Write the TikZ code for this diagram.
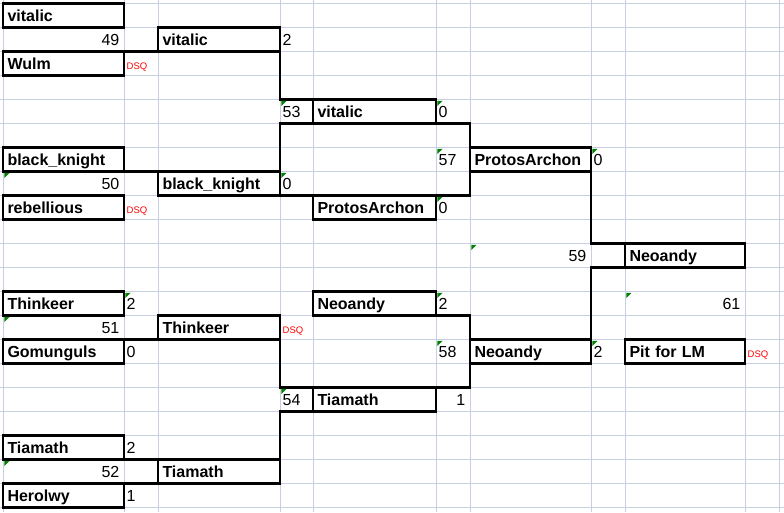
\documentclass[tikz,border=0pt]{standalone}
\usepackage{fontspec}
\setmainfont{Liberation Sans}
\definecolor{gridc}{RGB}{200,206,228}
\definecolor{xlgreen}{RGB}{0,128,0}
\definecolor{dsqred}{RGB}{255,0,0}
\tikzset{
  namebox/.style={draw=black, line width=2.8pt, rectangle, anchor=north west,
    minimum height=24pt, minimum width=#1, text width=#1-9pt,
    inner xsep=4.5pt, inner ysep=0pt, outer sep=0pt,
    text height=14pt, text depth=2pt, align=left,
    font=\fontsize{16}{19}\selectfont\bfseries},
  numL/.style={anchor=base west, inner sep=0pt, font=\fontsize{16}{19}\selectfont},
  numR/.style={anchor=base east, inner sep=0pt, font=\fontsize{16}{19}\selectfont},
  dsq/.style={anchor=base west, inner sep=0pt, text=dsqred, font=\fontsize{9.5}{11}\selectfont},
  conn/.style={draw=black, line width=2.8pt, line cap=rect, line join=miter},
  gridline/.style={draw=gridc, line width=1pt},
  flag/.style={fill=xlgreen}
}
\begin{document}
\begin{tikzpicture}[x=1pt,y=-1pt]
\useasboundingbox (0,0) rectangle (784,512);
\fill[white] (0,0) rectangle (784,512);
% grid
\foreach \gx in {3,124,158,280,313,436,470,591,625,745,779}
  \draw[gridline] (\gx,0) -- (\gx,512);
\foreach \r in {0,...,21}
  \draw[gridline] (0,3.5+24*\r) -- (784,3.5+24*\r);

% boxes
\node[namebox=121pt] (a0)  at (3,3.5)     {vitalic};
\node[namebox=121pt] (a2)  at (3,51.5)    {Wulm};
\node[namebox=122pt] (w49) at (158,27.5)  {vitalic};
\node[namebox=123pt] (w53) at (313,99.5)  {vitalic};
\node[namebox=121pt] (a6)  at (3,147.5)   {black\_knight};
\node[namebox=122pt] (w50) at (158,171.5) {black\_knight};
\node[namebox=121pt] (a8)  at (3,195.5)   {rebellious};
\node[namebox=123pt] (p8)  at (313,195.5) {ProtosArchon};
\node[namebox=121pt] (w57) at (470,147.5) {ProtosArchon};
\node[namebox=120pt] (w59) at (625,243.5) {Neoandy};
\node[namebox=121pt] (a12) at (3,291.5)   {Thinkeer};
\node[namebox=122pt] (w51) at (158,315.5) {Thinkeer};
\node[namebox=121pt] (a14) at (3,339.5)   {Gomunguls};
\node[namebox=123pt] (n12) at (313,291.5) {Neoandy};
\node[namebox=121pt] (w58) at (470,339.5) {Neoandy};
\node[namebox=123pt] (w54) at (313,387.5) {Tiamath};
\node[namebox=121pt] (a18) at (3,435.5)   {Tiamath};
\node[namebox=122pt] (w52) at (158,459.5) {Tiamath};
\node[namebox=121pt] (a20) at (3,483.5)   {Herolwy};
\node[namebox=120pt] (pit) at (625,339.5) {Pit for LM};

% connectors
\draw[conn] (a2.north east) -- (w49.south west);
\draw[conn] (a6.south east) -- (w50.north west);
\draw[conn] (a14.north east) -- (w51.south west);
\draw[conn] (a18.south east) -- (w52.north west);
\draw[conn] (a20.north east) -- (w52.south west);
\draw[conn] (w49.south east) |- (w53.north west);
\draw[conn] (w50.north east) |- (w53.south west);
\draw[conn] (w50.south east) -- (p8.north west);
\draw[conn] (w53.south east) -| (w57.north west);
\draw[conn] (p8.north east) -| (w57.south west);
\draw[conn] (w57.south east) |- (w59.north west);
\draw[conn] (w58.north east) |- (w59.south west);
\draw[conn] (w51.south east) |- (w54.north west);
\draw[conn] (w52.north east) |- (w54.south west);
\draw[conn] (n12.south east) -| (w58.north west);
\draw[conn] (w54.north east) -| (w58.south west);

% scores and match numbers
\node[numR] (m49) at (119.5,45.8) {49};
\node[numL] (s49) at (282.5,45.8) {2};
\node[dsq]  (d2)  at (126.5,69.8) {DSQ};
\node[numL] (m53) at (282.5,117.8) {53};
\node[numL] (s53) at (438.5,117.8) {0};
\node[numL] (m57) at (438.5,165.8) {57};
\node[numL] (s57) at (593.5,165.8) {0};
\node[numR] (m50) at (119.5,189.8) {50};
\node[numL] (s50) at (282.5,189.8) {0};
\node[dsq]  (d8)  at (126.5,213.8) {DSQ};
\node[numL] (sp8) at (438.5,213.8) {0};
\node[numR] (m59) at (586.5,261.8) {59};
\node[numL] (s12) at (126.5,309.8) {2};
\node[numL] (sn12) at (438.5,309.8) {2};
\node[numR] (m61) at (740.5,309.8) {61};
\node[numR] (m51) at (119.5,333.8) {51};
\node[dsq]  (d13) at (282.5,333.4) {DSQ};
\node[numL] (s14) at (126.5,357.8) {0};
\node[numL] (m58) at (438.5,357.8) {58};
\node[numL] (s58) at (593.5,357.8) {2};
\node[dsq]  (d14) at (747.5,357.8) {DSQ};
\node[numL] (m54) at (282.5,405.8) {54};
\node[numR] (s54) at (465.5,405.8) {1};
\node[numL] (s18) at (126.5,453.8) {2};
\node[numR] (m52) at (119.5,477.8) {52};
\node[numL] (s20) at (126.5,501.8) {1};

% green error flags
\foreach \fx/\fy in {280/99.5, 436/99.5, 436/147.5, 591/147.5, 280/171.5, 436/195.5,
  3/171.5, 470/243.5, 436/291.5, 625/291.5, 436/339.5, 591/339.5, 280/387.5,
  3/315.5, 124/291.5, 3/459.5}
  \fill[flag] (\fx+1.4,\fy+1.4) -- ++(5,0) -- ++(-5,5) -- cycle;
\end{tikzpicture}
\end{document}
